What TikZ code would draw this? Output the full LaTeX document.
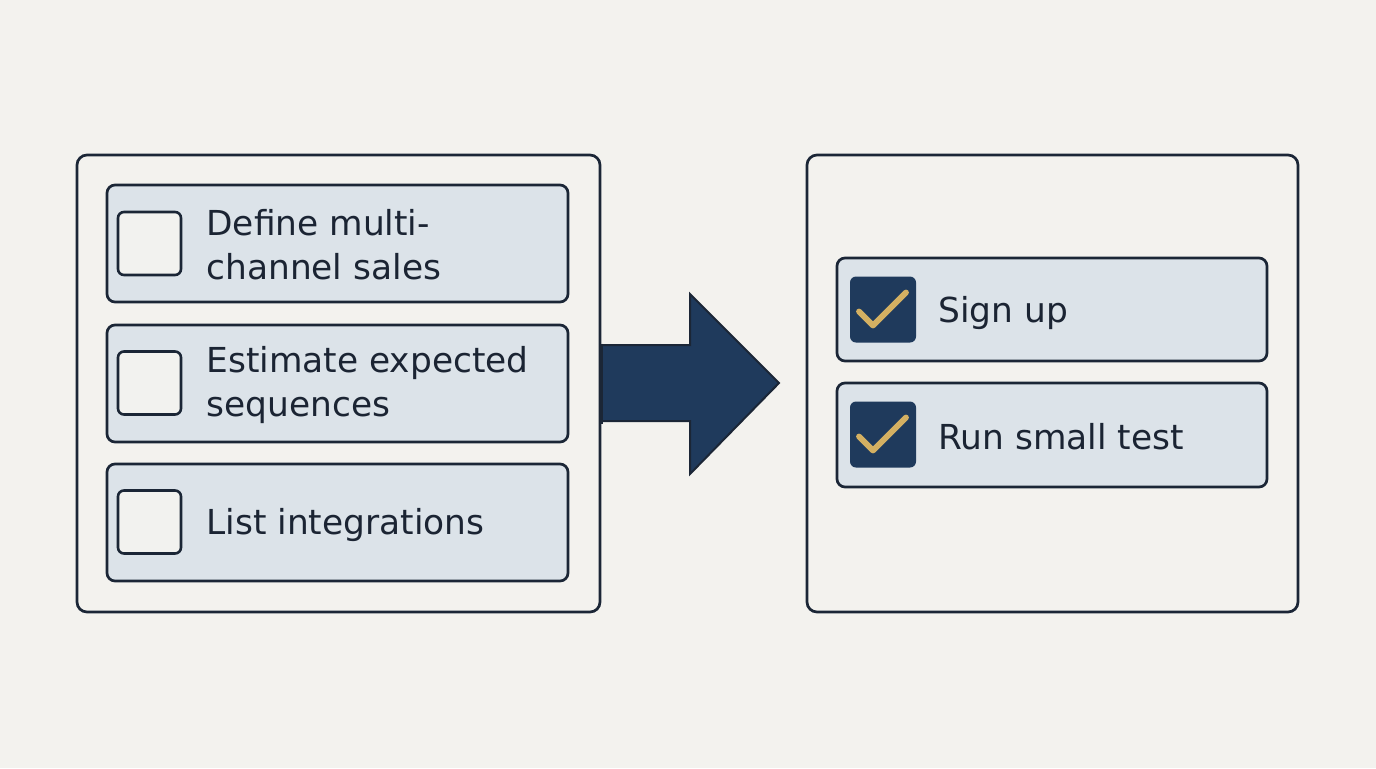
\documentclass[tikz,border=0pt]{standalone}
\usepackage{fontspec}
\setmainfont{DejaVu Sans}
\definecolor{bg}{HTML}{F3F2EE}
\definecolor{ink}{HTML}{1B2636}
\definecolor{itemfill}{HTML}{DCE3E9}
\definecolor{boxfill}{HTML}{F2F2EF}
\definecolor{navy}{HTML}{1F3A5C}
\definecolor{gold}{HTML}{D4B062}
\definecolor{txt}{HTML}{1B2433}
\begin{document}
\begin{tikzpicture}[x=0.5pt,y=-0.5pt,
  outerbox/.style={draw=ink,line width=1.35pt,rounded corners=5pt,fill=bg,inner sep=0pt},
  itembox/.style={draw=ink,line width=1.35pt,rounded corners=4pt,fill=itemfill,inner sep=0pt,minimum width=230.5pt},
  emptybox/.style={draw=ink,line width=1.3pt,rounded corners=3pt,fill=boxfill,inner sep=0pt,minimum width=31.5pt,minimum height=31.5pt},
  donebox/.style={fill=navy,rounded corners=3pt,inner sep=0pt,minimum width=33pt,minimum height=33pt},
  label/.style={anchor=west,align=left,text=txt,inner sep=0pt,font=\fontsize{17.2pt}{22pt}\selectfont},
  tick/.style={draw=gold,line width=2.9pt,line cap=round,line join=round}]
\fill[bg] (0,0) rectangle (1376,768);
\useasboundingbox (0,0) rectangle (1376,768);
% left panel
\node[outerbox,minimum width=261.5pt,minimum height=228.5pt] (lo) at (338.5,383.5) {};
\node[itembox,minimum height=58.5pt] (l1) at (337.5,243.5) {};
\node[itembox,minimum height=58.5pt] (l2) at (337.5,383.5) {};
\node[itembox,minimum height=58.5pt] (l3) at (337.5,522.5) {};
\node[emptybox] (c1) at (149.5,243.5) {};
\node[emptybox] (c2) at (149.5,383) {};
\node[emptybox] (c3) at (149.5,522) {};
\node[label] (t1) at (206,245) {Define multi-\\channel sales};
\node[label] (t2) at (206,385) {Estimate expected\\sequences};
\node[label] (t3) at (206,525) {List integrations};
% right panel
\node[outerbox,minimum width=245.5pt,minimum height=228.5pt] (ro) at (1052.5,383.5) {};
\node[itembox,minimum width=215pt,minimum height=51.5pt] (r1) at (1052,309.5) {};
\node[itembox,minimum width=215pt,minimum height=52pt] (r2) at (1052,435) {};
\node[donebox] (d1) at (883,309.5) {};
\node[donebox] (d2) at (883,434.5) {};
\draw[tick] ([xshift=-12pt,yshift=-1pt]d1.center) -- ([xshift=-5pt,yshift=-8pt]d1.center) -- ([xshift=11.5pt,yshift=8.5pt]d1.center);
\draw[tick] ([xshift=-12pt,yshift=-1pt]d2.center) -- ([xshift=-5pt,yshift=-8pt]d2.center) -- ([xshift=11.5pt,yshift=8.5pt]d2.center);
\node[label] (s1) at (938,313) {Sign up};
\node[label] (s2) at (938,437) {Run small test};
% arrow
\draw[fill=navy,draw=ink,line width=1pt,line join=miter]
  (600,345) -- (690,345) -- (690,294) -- (779,383) -- (690,474) -- (690,421) -- (600,421) -- cycle;
\draw[ink,line width=1.35pt] ([yshift=20pt]lo.east) -- ([yshift=-20pt]lo.east);
\end{tikzpicture}
\end{document}
